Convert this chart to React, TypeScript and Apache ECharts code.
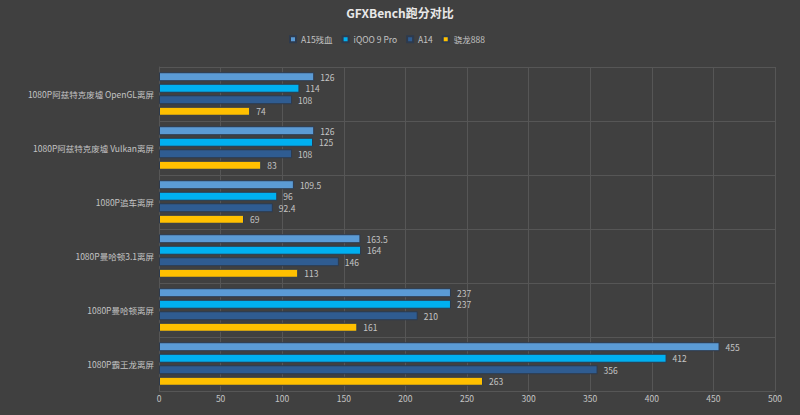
import React, { useEffect, useRef } from "react";
import * as echarts from "echarts";

const categories = [
  "1080P阿兹特克废墟 OpenGL离屏",
  "1080P阿兹特克废墟 Vulkan离屏",
  "1080P追车离屏",
  "1080P曼哈顿3.1离屏",
  "1080P曼哈顿离屏",
  "1080P霸王龙离屏",
];
const seriesNames = ["A15残血", "iQOO 9 Pro", "A14", "骁龙888"];
const a15 = [126, 126, 109.5, 163.5, 237, 455];
const iqoo = [114, 125, 96, 164, 237, 412];
const a14 = [108, 108, 92.4, 146, 210, 356];
const sd888 = [74, 83, 69, 113, 161, 263];
const colors = ["#5B9BD5", "#00B0F0", "#2F5C91", "#FFC000"];
const xTicks = { min: 0, max: 500, interval: 50 };

const FONT = "Noto Sans CJK SC";

export default function App() {
  const ref = useRef<HTMLDivElement>(null);
  useEffect(() => {
    if (!ref.current) return;
    const chart = echarts.init(ref.current, undefined, { renderer: "svg" });
    const data = [a15, iqoo, a14, sd888];
    chart.setOption({
      animation: false,
      backgroundColor: "#404040",
      title: {
        text: "GFXBench跑分对比",
        left: "center",
        top: 1,
        textStyle: { color: "#e8e8e8", fontSize: 12, fontWeight: "bold", fontFamily: FONT },
      },
      legend: {
        data: seriesNames,
        top: 30,
        left: 284,
        itemWidth: 6,
        itemHeight: 6,
        itemGap: 9,
        icon: "rect",
        textStyle: { color: "#c4c4c4", fontSize: 8.5, fontFamily: FONT },
      },
      grid: { left: 159, right: 25, top: 67, bottom: 24, containLabel: false },
      xAxis: {
        type: "value",
        min: xTicks.min,
        max: xTicks.max,
        interval: xTicks.interval,
        axisLine: { show: false },
        axisTick: { show: false },
        axisLabel: { color: "#c4c4c4", fontSize: 8.5, margin: 3, fontFamily: FONT },
        splitLine: { show: true, lineStyle: { color: "#565656", width: 1 } },
      },
      yAxis: {
        type: "category",
        inverse: true,
        data: categories,
        axisLine: { show: true, lineStyle: { color: "#565656" } },
        axisTick: { show: false },
        axisLabel: { color: "#c4c4c4", fontSize: 8.5, margin: 5, fontFamily: FONT },
        splitLine: { show: true, lineStyle: { color: "#565656", width: 1 } },
      },
      series: seriesNames.map((name, i) => ({
        name,
        type: "bar",
        data: data[i],
        barWidth: 9,
        barGap: "28%",
        itemStyle: { color: colors[i], borderColor: "#2d3a4d", borderWidth: 1 },
        label: {
          show: true,
          position: "right",
          distance: 6,
          color: "#c4c4c4",
          fontSize: 8.5,
          lineHeight: 9,
          fontFamily: FONT,
        },
      })),
    });
    return () => chart.dispose();
  }, []);
  return <div ref={ref} style={{ width: 800, height: 415, position: "absolute", left: 0, top: 0 }} />;
}
